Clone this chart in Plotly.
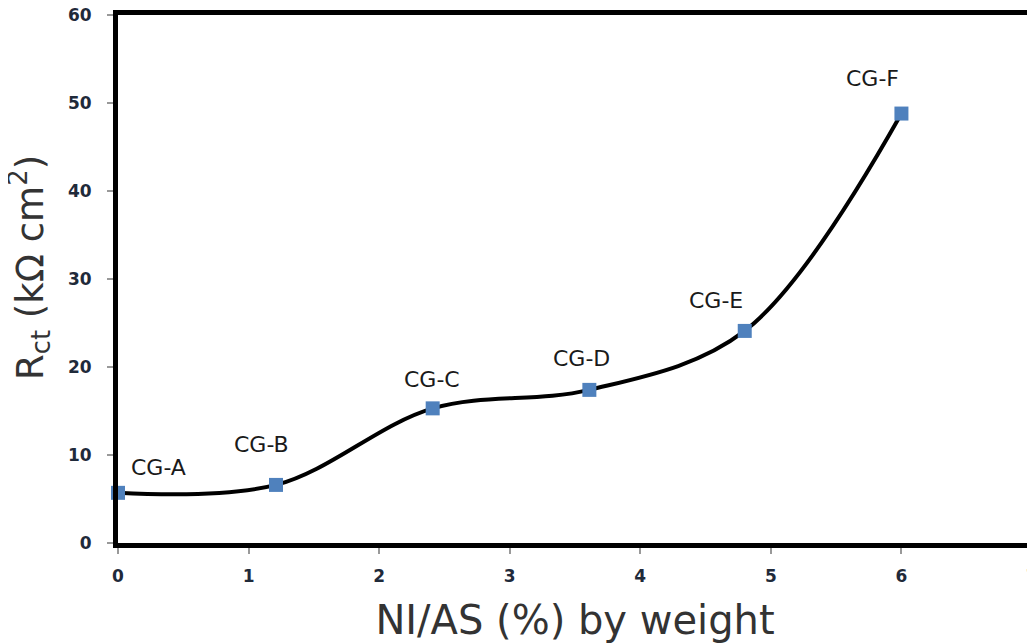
import plotly.graph_objects as go

x_vals = [0.0, 1.21, 2.41, 3.61, 4.80, 6.0]
y_vals = [5.7, 6.6, 15.3, 17.4, 24.1, 48.8]
labels = ["CG-A", "CG-B", "CG-C", "CG-D", "CG-E", "CG-F"]
x_ticks = [0, 1, 2, 3, 4, 5, 6, 7]
y_ticks = [0, 10, 20, 30, 40, 50, 60]

label_offsets = [(40, -25), (-14, -40), (-1, -29), (-8, -31), (-29, -30), (-29, -35)]

LABEL_FONT = "DejaVu Sans"

fig = go.Figure()
fig.add_trace(go.Scatter(
    x=x_vals, y=y_vals, mode="lines+markers",
    line=dict(color="black", width=4, shape="spline", smoothing=1.0),
    marker=dict(symbol="square", size=14, color="#4F81BD"),
    cliponaxis=False, showlegend=False,
))

for xv, yv, lab, (dx, dy) in zip(x_vals, y_vals, labels, label_offsets):
    fig.add_annotation(x=xv, y=yv, text=lab, showarrow=False,
                       xshift=dx, yshift=-dy,
                       font=dict(family=LABEL_FONT, size=22, color="#1a1a1a"))

# y-axis title as a rotated annotation (placed slightly above the plot centre)
fig.add_annotation(xref="paper", yref="paper", x=0, y=0.5, xanchor="center", yanchor="middle",
                   xshift=-89, yshift=11,
                   text="R<sub>ct</sub> (kΩ cm<sup>2</sup>)", textangle=-90, showarrow=False,
                   font=dict(family=LABEL_FONT, size=37, color="#333333"))

fig.update_layout(
    width=1027, height=635,
    margin=dict(l=110, r=3, t=7, b=100),
    paper_bgcolor="white", plot_bgcolor="white",
    font=dict(family=LABEL_FONT, color="#262626"),
)
fig.update_xaxes(
    range=[0, 7], tickvals=x_ticks, ticktext=[f"<b>{t}</b>" for t in x_ticks],
    automargin=False, ticklabeloverflow="allow",
    showgrid=False, zeroline=False, showline=True, linecolor="black", linewidth=5, mirror=True,
    ticks="outside", ticklen=6, tickcolor="#999999", tickwidth=1.5, ticklabelstandoff=8,
    tickfont=dict(family=LABEL_FONT, size=17, color="#1f2a3a"),
    title=dict(text="NI/AS (%) by weight", font=dict(family=LABEL_FONT, size=40, color="#333333"), standoff=22),
)
fig.update_yaxes(
    range=[0, 60], tickvals=y_ticks, ticktext=[f"<b>{t}</b>" for t in y_ticks],
    automargin=False, ticklabeloverflow="allow",
    showgrid=False, zeroline=False, showline=True, linecolor="black", linewidth=5, mirror=True,
    ticks="outside", ticklen=6, tickcolor="#999999", tickwidth=1.5, ticklabelstandoff=12,
    tickfont=dict(family=LABEL_FONT, size=17, color="#1f2a3a"),
)

fig.write_html("out.html")
